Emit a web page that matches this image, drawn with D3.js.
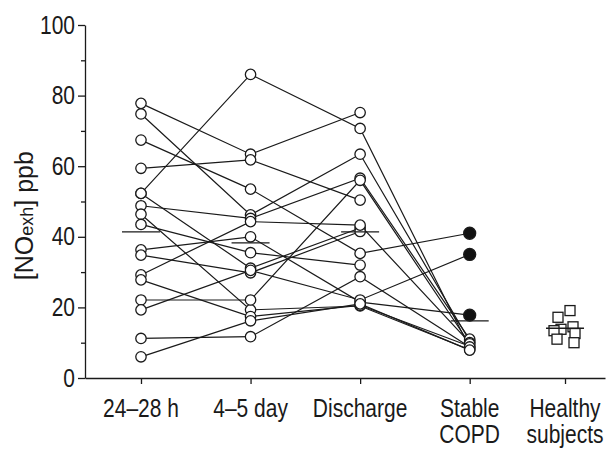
<!DOCTYPE html>
<html>
<head>
<meta charset="utf-8">
<script src="https://cdn.jsdelivr.net/npm/d3@7"></script>
<style>
  body { margin: 0; background: #fff; }
  .no-chart text { font-family: "Liberation Sans", Arial, sans-serif; fill: #1a1a1a; }
</style>
</head>
<body>
<div class="no-chart"></div>
<script>
// x groups (last two labels sit on two lines)
var groupLabels = [["24–28 h"], ["4–5 day"], ["Discharge"], ["Stable", "COPD"], ["Healthy", "subjects"]];

// [NOexh] ppb for each patient, one array per visit (null = no value)
var h24          = [77.8, 74.8, 67.4, 59.4, 52.3, 52.3, 48.8, 46.4, 43.5, 36.3, 34.8, 29.2, 27.8, 22.1, 19.3, 11.2, 6.0];
var day45        = [63.4, 46.2, 53.5, 61.8, 86.0, 31.1, 45.2, 19.3, 35.5, 40.0, 29.8, 44.3, 17.4, 22.1, 30.5, 11.7, 16.2];
var discharge    = [75.2, 63.4, 35.3, 50.4, 70.7, 42.5, 56.6, 20.4, 32.0, 21.5, 41.5, 43.3, 20.6, 56.0, 22.1, 28.7, 21.0];
var stableOpen   = [null, 10.5, null, null, 8.5, null, 11.0, 8.0, null, null, null, 10.0, 9.0, 9.7, null, 8.8, 7.9];
var stableFilled = [null, null, 41.0, null, null, null, null, null, null, 17.8, null, null, null, null, 35.0, null, null];

// healthy subjects
var healthy = [19.1, 17.2, 14.5, 13.8, 13.4, 12.6, 11.0, 10.0];

// group means (horizontal bars)
var groupMeans = [41.4, 38.3, 41.4, 16.2, 14.1];

var yTicks = [0, 20, 40, 60, 80, 100];
var yMinorTicks = [10, 30, 50, 70, 90];

/**
 * Constructor for the NO chart
 */
function NoChart(){
    var self = this;
    self.init();
};

/**
 * Initializes svg and scales
 */
NoChart.prototype.init = function(){
    var self = this;
    self.width = 607;
    self.height = 450;
    // horizontal squeeze so the sans looks condensed like the original
    self.squeeze = 0.84;

    // group slots along x (healthy sits a bit closer)
    self.groupPos = [0, 1, 2, 3, 3.87];
    // small sideways offsets for the healthy squares
    self.healthyJitter = [5, -7, 8, -4, -11, 10, -8, 9];

    self.svg = d3.select(".no-chart").append("svg")
        .attr("width", self.width)
        .attr("height", self.height);

    self.x = d3.scaleLinear()
      .domain([-0.511, 4.235])
      .range([85, 605]);

    self.y = d3.scaleLinear()
      .domain([0, 100])
      .range([378, 25]);
};

NoChart.prototype.drawAxes = function(){
    var self = this;
    var k = self.squeeze;

    // minor y ticks
    var minor = self.svg.append("g")
      .attr("class", "axis")
      .attr("transform", "translate(" + self.x.range()[0] + ",0)")
      .call(d3.axisLeft(self.y).tickValues(yMinorTicks).tickSize(4).tickFormat(""));
    minor.select(".domain").remove();

    var yAxis = self.svg.append("g")
      .attr("class", "axis")
      .attr("transform", "translate(" + self.x.range()[0] + ",0)")
      .call(d3.axisLeft(self.y).tickValues(yTicks).tickSize(7).tickSizeOuter(0).tickPadding(3));
    yAxis.selectAll("text")
      .style("font-size", "25px")
      .attr("x", -10 / k)
      .attr("transform", "scale(" + k + ",1)");

    self.svg.append("g")
      .attr("class", "axis")
      .attr("transform", "translate(0," + self.y(0) + ")")
      .call(d3.axisBottom(self.x).tickValues(self.groupPos).tickSize(6).tickSizeOuter(0).tickFormat(""));

    self.svg.selectAll(".axis path, .axis line")
      .attr("stroke", "#1a1a1a").attr("stroke-width", 1.3);

    // group labels
    var lab = self.svg.append("g").selectAll("g")
      .data(groupLabels)
      .enter().append("g")
      .attr("transform", function(d, i){
        return "translate(" + self.x(self.groupPos[i]) + "," + (self.y(0) + 39) + ") scale(" + k + ",1)";
      })
      .append("text")
      .attr("text-anchor", "middle")
      .style("font-size", "25px");
    lab.selectAll("tspan")
      .data(function(d){ return d; })
      .enter().append("tspan")
      .attr("x", 0)
      .attr("dy", function(d, i){ return i === 0 ? 0 : 26; })
      .text(function(d){ return d; });

    // y title with small "exh"
    var title = self.svg.append("text")
      .attr("transform", "translate(33," + self.y(46) + ") rotate(-90)")
      .attr("text-anchor", "middle")
      .style("font-size", "25px");
    title.append("tspan").text("[NO");
    title.append("tspan").style("font-size", "18px").text("exh");
    title.append("tspan").text("] ppb");
};

NoChart.prototype.drawPatients = function(){
    var self = this;
    var visits = [h24, day45, discharge];

    var patients = h24.map(function(v, i){
      var pts = visits.map(function(arr, g){ return {g: g, v: arr[i], filled: false}; });
      if (stableOpen[i] != null) pts.push({g: 3, v: stableOpen[i], filled: false});
      if (stableFilled[i] != null) pts.push({g: 3, v: stableFilled[i], filled: true});
      return pts.filter(function(p){ return p.v != null; });
    });

    var line = d3.line()
      .x(function(d){ return self.x(self.groupPos[d.g]); })
      .y(function(d){ return self.y(d.v); });

    self.svg.append("g").selectAll("path")
      .data(patients)
      .enter().append("path")
      .attr("d", line)
      .attr("fill", "none")
      .attr("stroke", "#1a1a1a")
      .attr("stroke-width", 1.2);

    var allPts = d3.merge(patients);
    self.svg.append("g").selectAll("circle")
      .data(allPts)
      .enter().append("circle")
      .attr("cx", function(d){ return self.x(self.groupPos[d.g]); })
      .attr("cy", function(d){ return self.y(d.v); })
      .attr("r", function(d){ return d.filled ? 6 : 5.2; })
      .attr("fill", function(d){ return d.filled ? "#111" : "#fff"; })
      .attr("stroke", "#1a1a1a")
      .attr("stroke-width", 1.3);
};

NoChart.prototype.drawHealthy = function(){
    var self = this;
    var s = 10;
    self.svg.append("g").selectAll("rect")
      .data(healthy)
      .enter().append("rect")
      .attr("x", function(d, i){ return self.x(self.groupPos[4]) + self.healthyJitter[i] - s / 2; })
      .attr("y", function(d){ return self.y(d) - s / 2; })
      .attr("width", s)
      .attr("height", s)
      .attr("fill", "#fff")
      .attr("stroke", "#1a1a1a")
      .attr("stroke-width", 1.3);
};

NoChart.prototype.drawMeans = function(){
    var self = this;
    self.svg.append("g").selectAll("line")
      .data(groupMeans)
      .enter().append("line")
      .attr("x1", function(d, i){ return self.x(self.groupPos[i]) - 19; })
      .attr("x2", function(d, i){ return self.x(self.groupPos[i]) + 19; })
      .attr("y1", function(d){ return self.y(d); })
      .attr("y2", function(d){ return self.y(d); })
      .attr("stroke", "#1a1a1a")
      .attr("stroke-width", 1.3);
};

var chart = new NoChart();
chart.drawAxes();
chart.drawPatients();
chart.drawHealthy();
chart.drawMeans();
</script>
</body>
</html>
